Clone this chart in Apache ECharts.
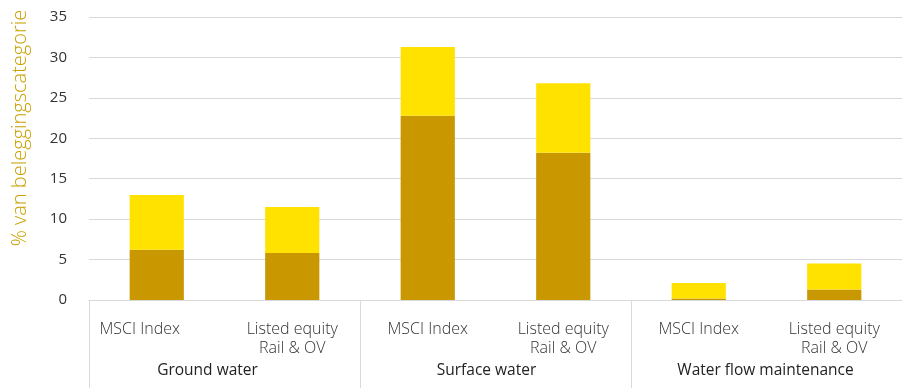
<!DOCTYPE html>
<html>
<head>
<meta charset="utf-8">
<script src="https://cdn.jsdelivr.net/npm/echarts@6/dist/echarts.min.js"></script>
<style>
  html, body { margin: 0; padding: 0; background: #fff; }
  #chart { width: 902px; height: 388px; }
</style>
</head>
<body>
<div id="chart"></div>
<script>
// Categories: each group holds two portfolios
const groups = ['Ground water', 'Surface water', 'Water flow maintenance'];
const categories = [
  'MSCI Index', 'Listed equity\nRail & OV',
  'MSCI Index', 'Listed equity\nRail & OV',
  'MSCI Index', 'Listed equity\nRail & OV'
];

// Lower (dark) segment and upper (yellow) segment, % of asset category
const lowerPart = [6.2, 5.8, 22.8, 18.2, 0.2, 1.3];
const upperPart = [6.8, 5.7, 8.5, 8.6, 1.9, 3.2];

const yTicks = [0, 5, 10, 15, 20, 25, 30, 35];

const textFont = '"Open Sans", "Noto Sans", sans-serif';

// Per-label right padding nudges a few labels leftwards
const innerShift = [34, 0, 0, 0, 0, 0];
const groupShift = [34, 18, 2];

const innerRich = {};
innerShift.forEach((p, i) => {
  innerRich['c' + i] = {
    color: '#333', fontFamily: textFont, fontSize: 16, fontWeight: 300,
    lineHeight: 19, padding: [0, p, 0, 0], align: 'center'
  };
});
const groupRich = {};
groupShift.forEach((p, i) => {
  groupRich['g' + i] = {
    color: '#222', fontFamily: textFont, fontSize: 15.5,
    padding: [0, p, 0, 0]
  };
});

const chart = echarts.init(document.getElementById('chart'), null, { renderer: 'canvas' });

chart.setOption({
  animation: false,
  grid: { left: 89, top: 17, width: 816, bottom: 88, containLabel: false },
  xAxis: [
    {
      type: 'category',
      data: categories,
      position: 'bottom',
      axisLine: { show: true, lineStyle: { color: '#D9D9D9', width: 1 } },
      axisTick: { show: false },
      axisLabel: {
        margin: 20,
        interval: 0,
        formatter: (value, index) =>
          value.split('\n').map(line => '{c' + index + '|' + line + '}').join('\n'),
        rich: innerRich
      }
    },
    {
      type: 'category',
      data: groups,
      position: 'bottom',
      axisLine: { show: false },
      axisTick: { show: true, length: 90, lineStyle: { color: '#D9D9D9', width: 1 } },
      axisLabel: {
        margin: 63,
        interval: 0,
        formatter: (value, index) => '{g' + index + '|' + value + '}',
        rich: groupRich
      }
    }
  ],
  yAxis: {
    type: 'value',
    min: yTicks[0],
    max: yTicks[yTicks.length - 1],
    interval: 5,
    axisLine: { show: false },
    axisTick: { show: false },
    splitLine: { lineStyle: { color: '#D9D9D9', width: 1 } },
    axisLabel: {
      color: '#333',
      fontFamily: textFont,
      fontSize: 15,
      margin: 22
    }
  },
  graphic: [
    {
      type: 'text',
      x: 20,
      y: 128,
      rotation: Math.PI / 2,
      style: {
        text: '% van beleggingscategorie',
        fill: '#C9A000',
        font: '300 20px ' + textFont,
        align: 'center',
        verticalAlign: 'middle'
      }
    }
  ],
  series: [
    {
      name: 'lower',
      type: 'bar',
      stack: 'total',
      xAxisIndex: 0,
      barWidth: '40%',
      data: lowerPart,
      itemStyle: { color: '#C99700' }
    },
    {
      name: 'upper',
      type: 'bar',
      stack: 'total',
      xAxisIndex: 0,
      barWidth: '40%',
      data: upperPart,
      itemStyle: { color: '#FFE200' }
    }
  ]
});
</script>
</body>
</html>
